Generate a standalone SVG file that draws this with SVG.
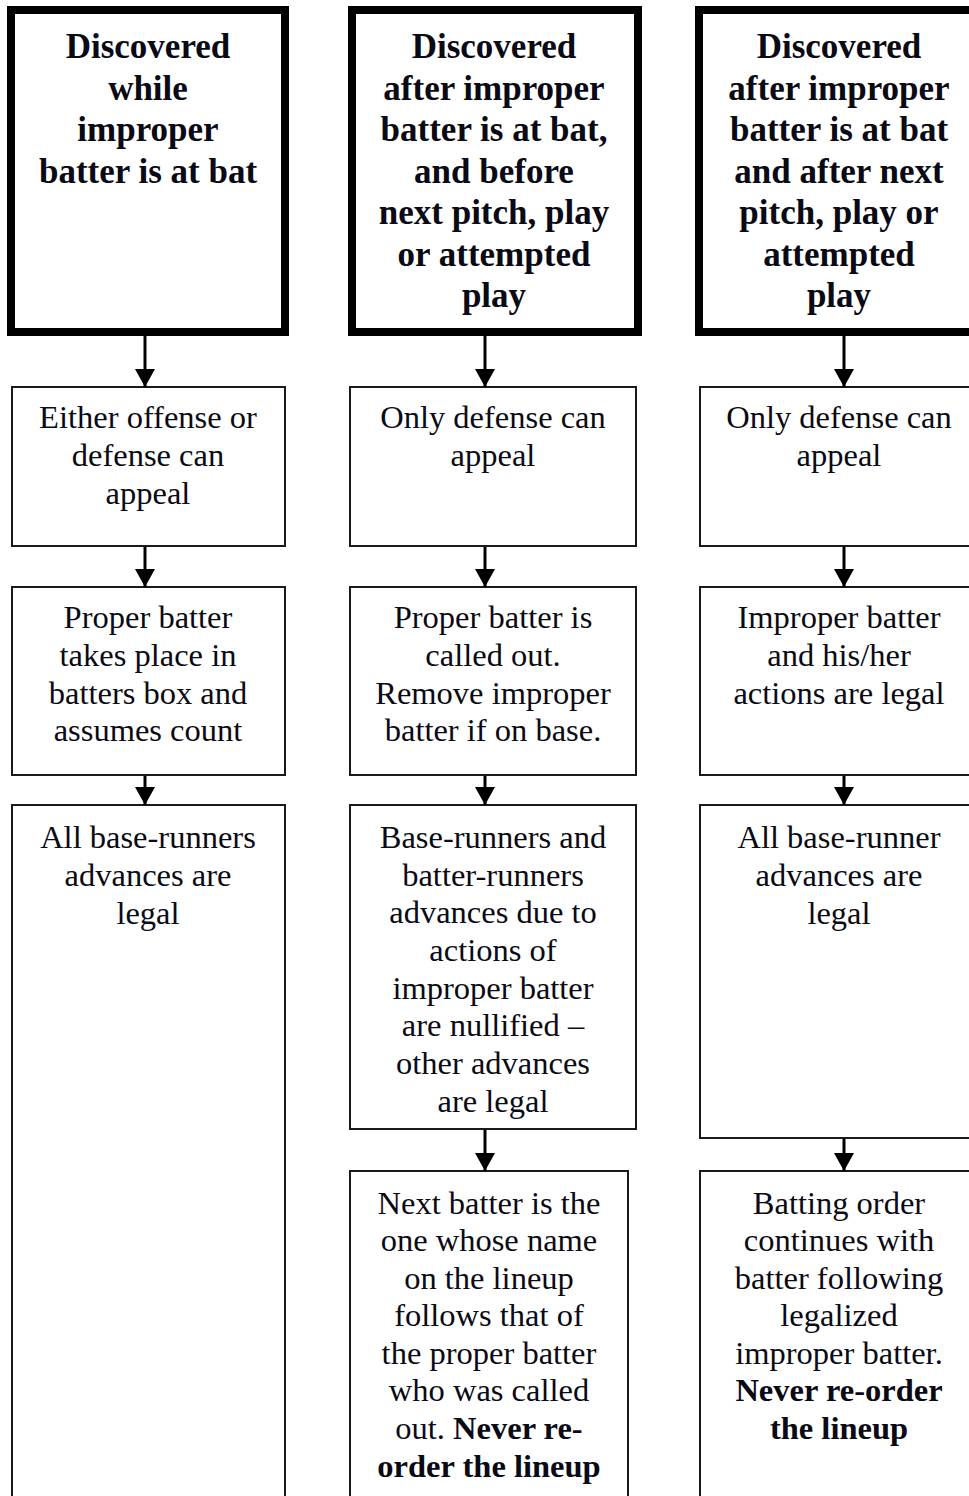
<svg xmlns="http://www.w3.org/2000/svg" width="969" height="1496" viewBox="0 0 969 1496">
<defs>
<style>
.thick{fill:#fff;stroke:#000;stroke-width:8}
.box{fill:#fff;stroke:#1a1a1a;stroke-width:2}
.h{font-family:"Liberation Serif","Times New Roman",serif;font-weight:bold;font-size:35px;fill:#0a0a14;text-anchor:middle}
.t{font-family:"Liberation Serif","Times New Roman",serif;font-size:32.5px;fill:#0a0a14;text-anchor:middle}
.b{font-weight:bold}
.conn line{stroke:#000;stroke-width:3}
</style>
<marker id="ah" viewBox="0 0 18 20" refX="18" refY="10" markerWidth="18" markerHeight="20" markerUnits="userSpaceOnUse" orient="auto">
<path d="M0,0 L18,10 L0,20 z" fill="#000"/>
</marker>
</defs>
<rect width="969" height="1496" fill="#fff"/>

<g id="c1-top">
<rect class="thick" x="11" y="10" width="274" height="322"/>
<text class="h" x="148"><tspan x="148" y="58">Discovered</tspan><tspan x="148" y="99.5">while</tspan><tspan x="148" y="141">improper</tspan><tspan x="148" y="182.5">batter is at bat</tspan></text>
</g>
<g id="c2-top">
<rect class="thick" x="352" y="10" width="286" height="322"/>
<text class="h" x="494"><tspan x="494" y="58">Discovered</tspan><tspan x="494" y="99.5">after improper</tspan><tspan x="494" y="141">batter is at bat,</tspan><tspan x="494" y="182.5">and before</tspan><tspan x="494" y="224">next pitch, play</tspan><tspan x="494" y="265.5">or attempted</tspan><tspan x="494" y="307">play</tspan></text>
</g>
<g id="c3-top">
<rect class="thick" x="699" y="10" width="282" height="322"/>
<text class="h" x="839"><tspan x="839" y="58">Discovered</tspan><tspan x="839" y="99.5">after improper</tspan><tspan x="839" y="141">batter is at bat</tspan><tspan x="839" y="182.5">and after next</tspan><tspan x="839" y="224">pitch, play or</tspan><tspan x="839" y="265.5">attempted</tspan><tspan x="839" y="307">play</tspan></text>
</g>

<g id="c1-appeal">
<rect class="box" x="12" y="387" width="273" height="159"/>
<text class="t"><tspan x="148" y="428">Either offense or</tspan><tspan x="148" y="466">defense can</tspan><tspan x="148" y="504">appeal</tspan></text>
</g>
<g id="c2-appeal">
<rect class="box" x="350" y="387" width="286" height="159"/>
<text class="t"><tspan x="493" y="428">Only defense can</tspan><tspan x="493" y="466">appeal</tspan></text>
</g>
<g id="c3-appeal">
<rect class="box" x="700" y="387" width="280" height="159"/>
<text class="t"><tspan x="839" y="428">Only defense can</tspan><tspan x="839" y="466">appeal</tspan></text>
</g>

<g id="c1-batter">
<rect class="box" x="12" y="587" width="273" height="188"/>
<text class="t"><tspan x="148" y="628">Proper batter</tspan><tspan x="148" y="666">takes place in</tspan><tspan x="148" y="704">batters box and</tspan><tspan x="148" y="741">assumes count</tspan></text>
</g>
<g id="c2-batter">
<rect class="box" x="350" y="587" width="286" height="188"/>
<text class="t"><tspan x="493" y="628">Proper batter is</tspan><tspan x="493" y="666">called out.</tspan><tspan x="493" y="704">Remove improper</tspan><tspan x="493" y="741">batter if on base.</tspan></text>
</g>
<g id="c3-batter">
<rect class="box" x="700" y="587" width="280" height="188"/>
<text class="t"><tspan x="839" y="628">Improper batter</tspan><tspan x="839" y="666">and his/her</tspan><tspan x="839" y="704">actions are legal</tspan></text>
</g>

<g id="c1-runners">
<rect class="box" x="12" y="805" width="273" height="720"/>
<text class="t"><tspan x="148" y="848">All base-runners</tspan><tspan x="148" y="886">advances are</tspan><tspan x="148" y="924">legal</tspan></text>
</g>
<g id="c2-runners">
<rect class="box" x="350" y="805" width="286" height="324"/>
<text class="t"><tspan x="493" y="848">Base-runners and</tspan><tspan x="493" y="886">batter-runners</tspan><tspan x="493" y="923">advances due to</tspan><tspan x="493" y="961">actions of</tspan><tspan x="493" y="999">improper batter</tspan><tspan x="493" y="1036">are nullified –</tspan><tspan x="493" y="1074">other advances</tspan><tspan x="493" y="1112">are legal</tspan></text>
</g>
<g id="c3-runners">
<rect class="box" x="700" y="805" width="280" height="333"/>
<text class="t"><tspan x="839" y="848">All base-runner</tspan><tspan x="839" y="886">advances are</tspan><tspan x="839" y="924">legal</tspan></text>
</g>

<g id="c2-next">
<rect class="box" x="350" y="1171" width="278" height="360"/>
<text class="t"><tspan x="489" y="1214">Next batter is the</tspan><tspan x="489" y="1251">one whose name</tspan><tspan x="489" y="1289">on the lineup</tspan><tspan x="489" y="1326">follows that of</tspan><tspan x="489" y="1364">the proper batter</tspan><tspan x="489" y="1401">who was called</tspan><tspan x="489" y="1439">out. <tspan class="b">Never re-</tspan></tspan><tspan x="489" y="1477" class="b">order the lineup</tspan></text>
</g>
<g id="c3-order">
<rect class="box" x="700" y="1171" width="280" height="360"/>
<text class="t"><tspan x="839" y="1214">Batting order</tspan><tspan x="839" y="1251">continues with</tspan><tspan x="839" y="1289">batter following</tspan><tspan x="839" y="1326">legalized</tspan><tspan x="839" y="1364">improper batter.</tspan><tspan x="839" y="1401" class="b">Never re-order</tspan><tspan x="839" y="1439" class="b">the lineup</tspan></text>
</g>

<g id="connectors" class="conn">
<line x1="145" y1="336" x2="145" y2="387" marker-end="url(#ah)"/>
<line x1="145" y1="547" x2="145" y2="587" marker-end="url(#ah)"/>
<line x1="145" y1="776" x2="145" y2="805" marker-end="url(#ah)"/>
<line x1="485" y1="336" x2="485" y2="387" marker-end="url(#ah)"/>
<line x1="485" y1="547" x2="485" y2="587" marker-end="url(#ah)"/>
<line x1="485" y1="776" x2="485" y2="805" marker-end="url(#ah)"/>
<line x1="485" y1="1130" x2="485" y2="1171" marker-end="url(#ah)"/>
<line x1="844" y1="336" x2="844" y2="387" marker-end="url(#ah)"/>
<line x1="844" y1="547" x2="844" y2="587" marker-end="url(#ah)"/>
<line x1="844" y1="776" x2="844" y2="805" marker-end="url(#ah)"/>
<line x1="844" y1="1139" x2="844" y2="1171" marker-end="url(#ah)"/>
</g>
</svg>
